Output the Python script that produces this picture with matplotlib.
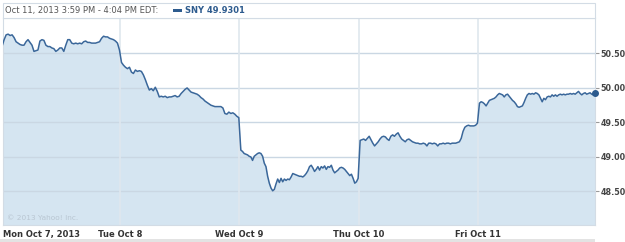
import numpy as np
import matplotlib.pyplot as plt
from matplotlib.patches import Rectangle

# SNY intraday prices, one list per trading day
mon = [50.61, 50.70, 50.77, 50.78, 50.76, 50.77, 50.73, 50.67, 50.65, 50.63,
       50.62, 50.62, 50.67, 50.70, 50.66, 50.62, 50.53, 50.54, 50.55, 50.68,
       50.70, 50.69, 50.62, 50.60, 50.60, 50.58, 50.57, 50.53, 50.55, 50.58,
       50.58, 50.53, 50.62, 50.70, 50.70, 50.65, 50.64, 50.65, 50.64, 50.65,
       50.64, 50.67, 50.68, 50.66, 50.66, 50.65, 50.65, 50.65, 50.66, 50.67,
       50.72, 50.75, 50.74, 50.74, 50.72, 50.71, 50.70, 50.68, 50.65, 50.55]
tue = [50.37, 50.33, 50.30, 50.28, 50.30, 50.23, 50.21, 50.26, 50.24, 50.25,
       50.24, 50.19, 50.12, 50.04, 49.97, 49.99, 49.96, 50.01, 49.95, 49.87,
       49.88, 49.87, 49.88, 49.86, 49.87, 49.87, 49.88, 49.89, 49.87, 49.88,
       49.92, 49.95, 49.98, 50.00, 49.97, 49.94, 49.93, 49.92, 49.91, 49.89,
       49.86, 49.84, 49.81, 49.79, 49.77, 49.75, 49.74, 49.73, 49.73, 49.73,
       49.73, 49.71, 49.63, 49.62, 49.65, 49.63, 49.64, 49.62, 49.59, 49.57]
wed = [49.10, 49.08, 49.05, 49.04, 49.03, 49.01, 49.00, 48.95, 49.01, 49.03,
       49.05, 49.06, 49.05, 49.01, 48.91, 48.86, 48.72, 48.62, 48.55, 48.51,
       48.53, 48.61, 48.68, 48.63, 48.69, 48.64, 48.68, 48.66, 48.68, 48.67,
       48.71, 48.76, 48.75, 48.74, 48.73, 48.72, 48.72, 48.71, 48.73, 48.76,
       48.80, 48.86, 48.88, 48.84, 48.79, 48.82, 48.86, 48.81, 48.86, 48.84,
       48.87, 48.82, 48.86, 48.85, 48.88, 48.81, 48.77, 48.79, 48.81, 48.84,
       48.85, 48.84, 48.82, 48.79, 48.76, 48.73, 48.75, 48.69, 48.62, 48.64,
       48.69]
thu = [49.24, 49.25, 49.26, 49.24, 49.27, 49.30, 49.25, 49.20, 49.16, 49.19,
       49.22, 49.26, 49.29, 49.30, 49.29, 49.26, 49.24, 49.30, 49.32, 49.30,
       49.33, 49.35, 49.30, 49.26, 49.24, 49.22, 49.25, 49.26, 49.24, 49.22,
       49.21, 49.20, 49.20, 49.19, 49.19, 49.20, 49.19, 49.16, 49.20, 49.20,
       49.19, 49.20, 49.19, 49.16, 49.19, 49.19, 49.20, 49.19, 49.20, 49.20,
       49.19, 49.20, 49.20, 49.20, 49.21, 49.22, 49.27, 49.37, 49.43, 49.45,
       49.46, 49.45, 49.45, 49.45, 49.46, 49.49]
fri = [49.78, 49.80, 49.79, 49.77, 49.74, 49.78, 49.82, 49.83, 49.84, 49.85,
       49.87, 49.90, 49.92, 49.91, 49.90, 49.87, 49.90, 49.91, 49.88, 49.85,
       49.82, 49.80, 49.77, 49.73, 49.72, 49.73, 49.74, 49.79, 49.85, 49.90,
       49.92, 49.91, 49.92, 49.91, 49.93, 49.92, 49.90, 49.85, 49.80, 49.85,
       49.83, 49.87, 49.88, 49.87, 49.90, 49.88, 49.90, 49.88, 49.90, 49.91,
       49.90, 49.91, 49.90, 49.91, 49.91, 49.92, 49.91, 49.92, 49.91, 49.93,
       49.95, 49.92, 49.90, 49.92, 49.93, 49.91, 49.92, 49.93, 49.91, 49.90,
       49.9301]
days = [mon, tue, wed, thu, fri]
day_labels = ["Mon Oct 7, 2013", "Tue Oct 8", "Wed Oct 9", "Thu Oct 10", "Fri Oct 11"]
y_ticks = [48.50, 49.00, 49.50, 50.00, 50.50]
last_price = 49.9301

# time axis in trading-day units
t = []
v = []
for d, vals in enumerate(days):
    end = d + 0.98 if d == len(days) - 1 else d + 0.995
    t.extend(np.linspace(d + 0.012, end, len(vals)))
    v.extend(vals)
t = np.array(t)
v = np.array(v)

W, H = 625, 242
fig = plt.figure(figsize=(W / 100, H / 100), dpi=100)
ax = fig.add_axes([3 / W, 17 / H, 592 / W, 207 / H])

line_c = '#3a679a'
fill_c = '#d5e5f1'
ylo, yhi = 48.014, 51.014

ax.fill_between(t, v, ylo, color=fill_c, lw=0, zorder=1)
for yt in y_ticks:
    ax.axhline(yt, color='#cad7e3', lw=1, zorder=2)
for d in range(1, len(days)):
    ax.axvline(d, color='#dfe7ee', lw=1.2, zorder=2)
ax.plot(t, v, color=line_c, lw=1.1, zorder=3)
ax.plot(t[-1], v[-1], 'o', color='#2d5b8e', ms=4, zorder=4, clip_on=False)

ax.set_xlim(0.019, 4.98)
ax.set_ylim(ylo, yhi)
ax.set_xticks([])
ax.yaxis.tick_right()
ax.set_yticks(y_ticks)
ax.set_yticklabels([f"{y:.2f}" for y in y_ticks], fontsize=5.8, fontweight='bold', color='#444444')
ax.tick_params(axis='y', length=3, width=0.8, color='#999999', pad=1)
for s in ax.spines.values():
    s.set_color('#d3dce5')
    s.set_linewidth(0.8)

# day labels under the plot
for d, lab in enumerate(day_labels):
    if d == 0:
        fig.text(3 / W, 1 - 234 / H, lab, ha='left', va='center',
                 fontsize=6, fontweight='bold', color='#333333')
    else:
        ax.text(d, -0.045, lab, transform=ax.get_xaxis_transform(), ha='center', va='center',
                fontsize=6, fontweight='bold', color='#333333')

ax.text(0.006, 0.035, "\u00a9 2013 Yahoo! Inc.", transform=ax.transAxes,
        fontsize=5.3, color='#b9c6d2', va='center')

# header box
fig.patches.append(Rectangle((3 / W, 1 - 18 / H), 592 / W, 15 / H, transform=fig.transFigure,
                             facecolor='white', edgecolor='#d3dce5', lw=0.8))
fig.text(5 / W, 1 - 10.5 / H, "Oct 11, 2013 3:59 PM - 4:04 PM EDT:", fontsize=6,
         color='#555555', va='center', ha='left')
fig.patches.append(Rectangle((173 / W, 1 - 12 / H), 9 / W, 3 / H, transform=fig.transFigure,
                             facecolor='#2d5b8e', lw=0))
fig.text(185 / W, 1 - 10.5 / H, f"SNY {last_price}", fontsize=6, fontweight='bold',
         color='#2d5b8e', va='center', ha='left')

# grey strip at the bottom
fig.patches.append(Rectangle((0, 0), 595 / W, 3 / H, transform=fig.transFigure,
                             facecolor='#e3e3e3', lw=0))

fig.savefig('out.png', dpi=100)
